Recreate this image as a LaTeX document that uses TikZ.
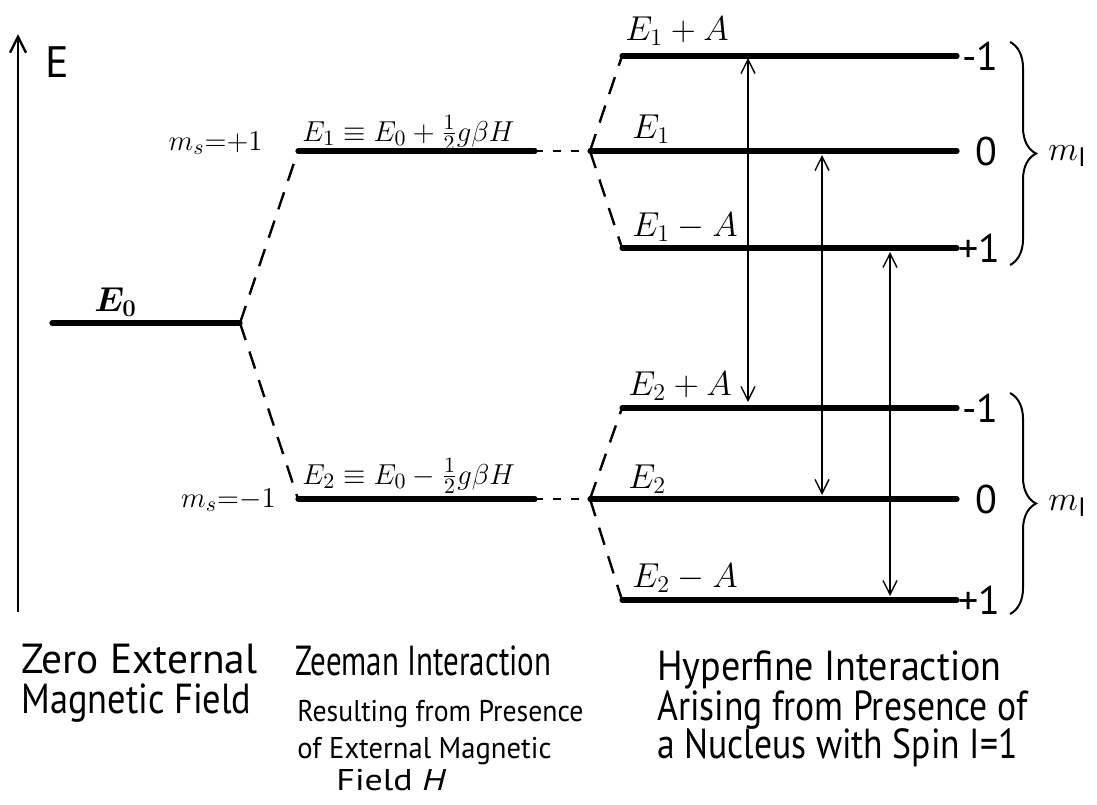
\documentclass[tikz,border=0pt]{standalone}
\usepackage{fontspec}
\usepackage{graphicx}
\usepackage{bm}
\setmainfont{PT Sans}
\usetikzlibrary{arrows.meta,decorations.pathreplacing}
\newcommand{\fitw}[2]{\resizebox{#1}{\height}{#2}}

\begin{document}
\begin{tikzpicture}[x=0.5pt, y=-0.5pt,
	% Define the styles for the levels, the dashed splittings and the labels
	lvl/.style={line width=2.6pt, line cap=round},
	splitdash/.style={line width=1.2pt, dash pattern=on 9pt off 6pt},
	linkdash/.style={line width=1.2pt, dash pattern=on 4pt off 5pt},
	trn/.style={line width=0.7pt, {Straight Barb[length=7pt,width=7pt]}-{Straight Barb[length=7pt,width=7pt]}},
	lab/.style={inner sep=0pt, anchor=base west, font=\fontsize{15}{18}\selectfont},
	hlab/.style={lab, font=\fontsize{16.5}{19}\selectfont},
	num/.style={inner sep=0pt, anchor=west, font=\fontsize{20}{22}\selectfont},
	capline/.style={inner sep=0pt, anchor=base west, font=\fontsize{21}{24}\selectfont},
	capsmall/.style={capline, font=\fontsize{15}{18}\selectfont},
	mbrace/.style={decorate, decoration={brace, amplitude=13pt}, line width=1pt}
	]
	\useasboundingbox (0,0) rectangle (1097,804);
	
	% --- ENERGY AXIS ---
	\coordinate (axlo) at (18,612);
	\coordinate (axhi) at (18,34);
	\draw[line width=1.2pt, -{Straight Barb[length=8pt,width=8pt]}] (axlo) -- (axhi);
	\node[inner sep=0pt, font=\fontsize{22}{24}\selectfont] (Elab) at (57,62) {E};
	
	% --- ZERO FIELD ---
	\coordinate (E0a) at (52,323);
	\coordinate (E0b) at (240,323);
	\draw[lvl] (E0a) -- (E0b);
	\node[lab, font=\fontsize{17}{20}\selectfont] (E0lab) at (94,311) {$\bm{E_0}$};
	
	% --- ZEEMAN LEVELS ---
	\coordinate (Z1a) at (298,151);
	\coordinate (Z1b) at (535,151);
	\coordinate (Z2a) at (298,499);
	\coordinate (Z2b) at (535,499);
	\draw[lvl] (Z1a) -- (Z1b);
	\draw[lvl] (Z2a) -- (Z2b);
	\draw[splitdash] (E0b) -- (Z1a);
	\draw[splitdash] (E0b) -- (Z2a);
	\node[lab] (Z1lab) at (302,141) {$E_1\equiv E_0+\frac{1}{2}g\beta H$};
	\node[lab] (Z2lab) at (302,484) {$E_2\equiv E_0-\frac{1}{2}g\beta H$};
	\node[lab, anchor=base east] (ms1) at (263,150) {$m_s{=}{+}1$};
	\node[lab, anchor=base east] (ms2) at (276,507) {$m_s{=}{-}1$};
	
	% --- HYPERFINE LEVELS ---
	\coordinate (S1) at (590,151);
	\coordinate (S2) at (590,499);
	\draw[linkdash] (Z1b) -- (S1);
	\draw[linkdash] (Z2b) -- (S2);
	% upper triplet
	\coordinate (H1a) at (622,56);  \coordinate (H1b) at (957,56);
	\coordinate (H2b) at (957,151);
	\coordinate (H3a) at (622,248); \coordinate (H3b) at (957,248);
	% lower triplet
	\coordinate (H4a) at (622,408); \coordinate (H4b) at (957,408);
	\coordinate (H5b) at (957,499);
	\coordinate (H6a) at (622,600); \coordinate (H6b) at (957,600);
	
	\draw[lvl] (H1a) -- (H1b);
	\draw[lvl] (S1) -- (H2b);
	\draw[lvl] (H3a) -- (H3b);
	\draw[lvl] (H4a) -- (H4b);
	\draw[lvl] (S2) -- (H5b);
	\draw[lvl] (H6a) -- (H6b);
	\draw[splitdash] (S1) -- (H1a);
	\draw[splitdash] (S1) -- (H3a);
	\draw[splitdash] (S2) -- (H4a);
	\draw[splitdash] (S2) -- (H6a);
	
	\node[hlab] (H1lab) at (625,40) {$E_1+A$};
	\node[hlab] (H2lab) at (632,138) {$E_1$};
	\node[hlab] (H3lab) at (632,236) {$E_1-A$};
	\node[hlab] (H4lab) at (628,395) {$E_2+A$};
	\node[hlab] (H5lab) at (628,488) {$E_2$};
	\node[hlab] (H6lab) at (632,587) {$E_2-A$};
	
	% nuclear quantum numbers
	\node[num] (n1) at (962,56) {-1};
	\node[num] (n2) at (975,151) {0};
	\node[num] (n3) at (958,248) {+1};
	\node[num] (n4) at (962,408) {-1};
	\node[num] (n5) at (975,499) {0};
	\node[num] (n6) at (958,600) {+1};
	
	\coordinate (B1a) at (1010,42);  \coordinate (B1b) at (1010,265);
	\coordinate (B2a) at (1010,393); \coordinate (B2b) at (1010,614);
	\draw[mbrace] (B1a) -- (B1b);
	\draw[mbrace] (B2a) -- (B2b);
	\node[lab, font=\fontsize{19}{22}\selectfont] (mI1) at (1048,160) {$m_{\mathrm{I}}$};
	\node[lab, font=\fontsize{19}{22}\selectfont] (mI2) at (1048,510) {$m_{\mathrm{I}}$};
	
	% --- TRANSITIONS ---
	\coordinate (T1a) at (748,58);  \coordinate (T1b) at (748,402);
	\coordinate (T2a) at (822,155); \coordinate (T2b) at (822,495);
	\coordinate (T3a) at (890,252); \coordinate (T3b) at (890,596);
	\draw[trn] (T1a) -- (T1b);
	\draw[trn] (T2a) -- (T2b);
	\draw[trn] (T3a) -- (T3b);
	
	% --- CAPTIONS ---
	\node[capline] (c1a) at (21,673) {\fitw{118pt}{Zero External}};
	\node[capline] (c1b) at (21,713) {\fitw{115pt}{Magnetic Field}};
	\node[capline] (c2a) at (295,675) {\fitw{128pt}{Zeeman Interaction}};
	\node[capsmall] (c2b) at (297,721) {\fitw{143pt}{Resulting from Presence}};
	\node[capsmall] (c2c) at (297,758) {\fitw{127pt}{of External Magnetic}};
	\node[capsmall] (c2d) at (336,790) {\fitw{55pt}{Field \textit{H}}};
	\node[capline] (c3a) at (657,680) {\fitw{172pt}{Hyperfine Interaction}};
	\node[capline] (c3b) at (657,720) {\fitw{185pt}{Arising from Presence of}};
	\node[capline] (c3c) at (657,758) {\fitw{180pt}{a Nucleus with Spin I=1}};
	
\end{tikzpicture}
\end{document}
